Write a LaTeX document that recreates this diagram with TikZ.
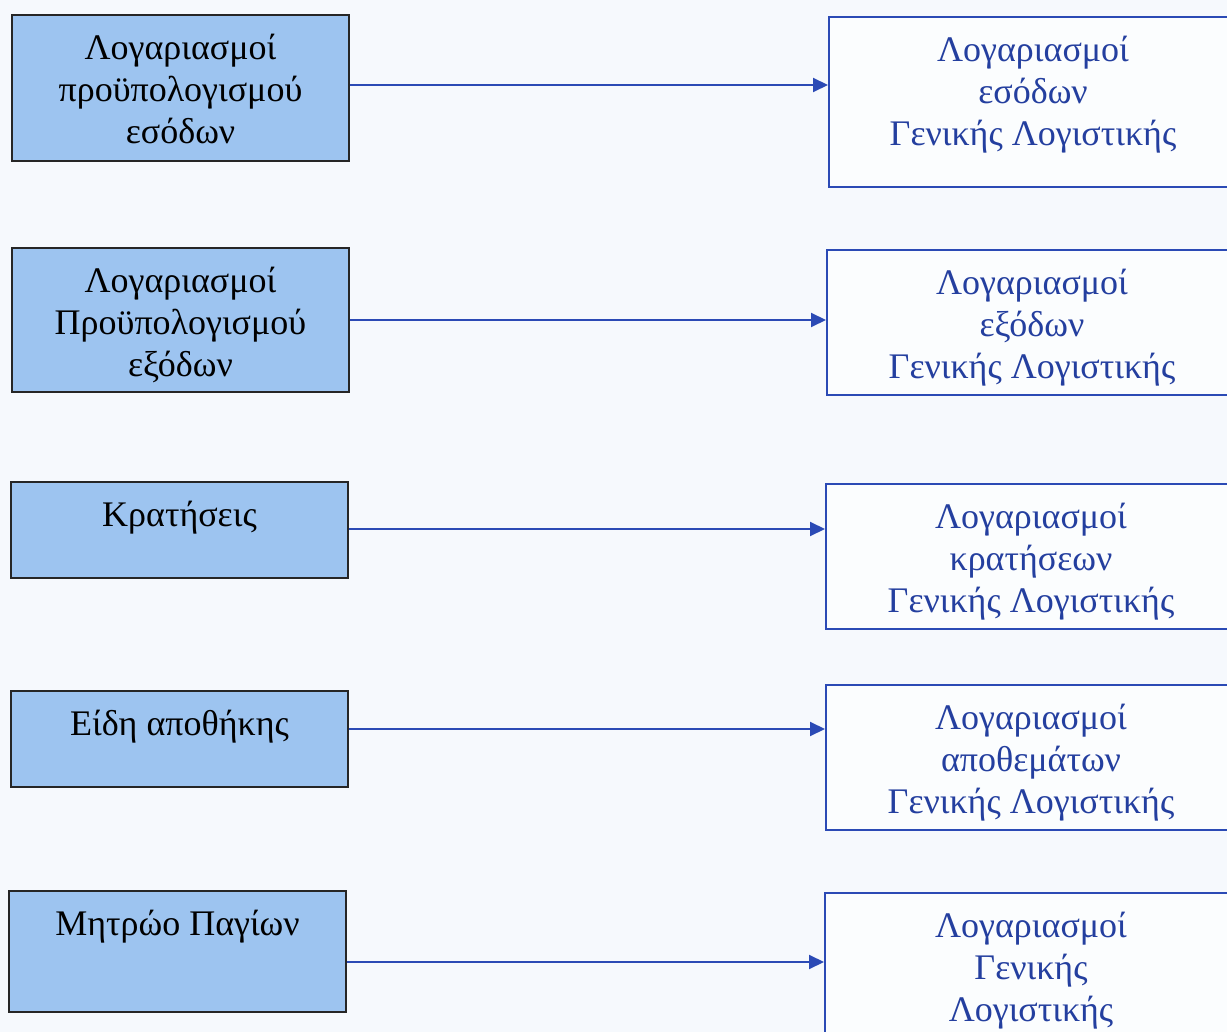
\documentclass[tikz,border=0pt]{standalone}
\usepackage{fontspec}
\setmainfont{Liberation Serif}
\usetikzlibrary{arrows.meta}
\definecolor{pagebg}{HTML}{F6F9FD}
\definecolor{srcfill}{HTML}{9DC4F0}
\definecolor{acctblue}{HTML}{243F9F}
\definecolor{linkblue}{HTML}{2B4AB5}
% fixed height for the first line of every label
\newcommand{\tstr}{\rule{0pt}{25pt}}
\tikzset{
  srcbox/.style={draw=black!85, line width=2pt, fill=srcfill, inner sep=0pt,
    anchor=north west},
  dstbox/.style={draw=linkblue, line width=2pt, fill=white!60!pagebg, inner sep=0pt,
    anchor=north west},
  srctext/.style={anchor=north, inner sep=0pt, align=center, text=black,
    font=\fontsize{36pt}{42pt}\selectfont},
  dsttext/.style={srctext, text=acctblue},
  link/.style={draw=linkblue, line width=2pt,
    -{Triangle[length=15pt,width=14pt]}}
}
\begin{document}
\begin{tikzpicture}[x=1pt,y=-1pt]
  \useasboundingbox (0,0) rectangle (1227,1032);
  \clip (0,0) rectangle (1227,1032);
  \fill[pagebg] (0,0) rectangle (1227,1032);

  % source registers (left column)
  \node[srcbox, minimum width=337pt, minimum height=146pt] (L1) at (11,14) {};
  \node[srcbox, minimum width=337pt, minimum height=144pt] (L2) at (11,247) {};
  \node[srcbox, minimum width=337pt, minimum height=96pt]  (L3) at (10,481) {};
  \node[srcbox, minimum width=337pt, minimum height=96pt]  (L4) at (10,690) {};
  \node[srcbox, minimum width=337pt, minimum height=121pt] (L5) at (8,890) {};

  % general ledger accounts (right column)
  \node[dstbox, minimum width=408pt, minimum height=170pt] (R1) at (828,16) {};
  \node[dstbox, minimum width=410pt, minimum height=145pt] (R2) at (826,249) {};
  \node[dstbox, minimum width=410pt, minimum height=145pt] (R3) at (825,483) {};
  \node[dstbox, minimum width=410pt, minimum height=145pt] (R4) at (825,684) {};
  \node[dstbox, minimum width=412pt, minimum height=170pt] (R5) at (824,892) {};

  % labels
  \node[srctext] (L1t) at ([yshift=-20pt]L1.north) {\tstr Λογαριασμοί\\προϋπολογισμού\\εσόδων};
  \node[srctext] (L2t) at ([yshift=-20pt]L2.north) {\tstr Λογαριασμοί\\Προϋπολογισμού\\εξόδων};
  \node[srctext] (L3t) at ([yshift=-20pt]L3.north) {\tstr Κρατήσεις};
  \node[srctext] (L4t) at ([yshift=-20pt]L4.north) {\tstr Είδη αποθήκης};
  \node[srctext] (L5t) at ([yshift=-20pt]L5.north) {\tstr Μητρώο Παγίων};

  \node[dsttext] (R1t) at ([yshift=-20pt]R1.north) {\tstr Λογαριασμοί\\εσόδων\\Γενικής Λογιστικής};
  \node[dsttext] (R2t) at ([yshift=-20pt]R2.north) {\tstr Λογαριασμοί\\εξόδων\\Γενικής Λογιστικής};
  \node[dsttext] (R3t) at ([yshift=-20pt]R3.north) {\tstr Λογαριασμοί\\κρατήσεων\\Γενικής Λογιστικής};
  \node[dsttext] (R4t) at ([yshift=-20pt]R4.north) {\tstr Λογαριασμοί\\αποθεμάτων\\Γενικής Λογιστικής};
  \node[dsttext] (R5t) at ([yshift=-20pt]R5.north) {\tstr Λογαριασμοί\\Γενικής\\Λογιστικής};

  % heights of the connectors
  \coordinate (h1) at (0,85);
  \coordinate (h2) at (0,320);
  \coordinate (h3) at (0,529);
  \coordinate (h4) at (0,729);
  \coordinate (h5) at (0,962);

  \draw[link] (L1.east |- h1) -- (R1.west |- h1);
  \draw[link] (L2.east |- h2) -- (R2.west |- h2);
  \draw[link] (L3.east |- h3) -- (R3.west |- h3);
  \draw[link] (L4.east |- h4) -- (R4.west |- h4);
  \draw[link] (L5.east |- h5) -- (R5.west |- h5);
\end{tikzpicture}
\end{document}
